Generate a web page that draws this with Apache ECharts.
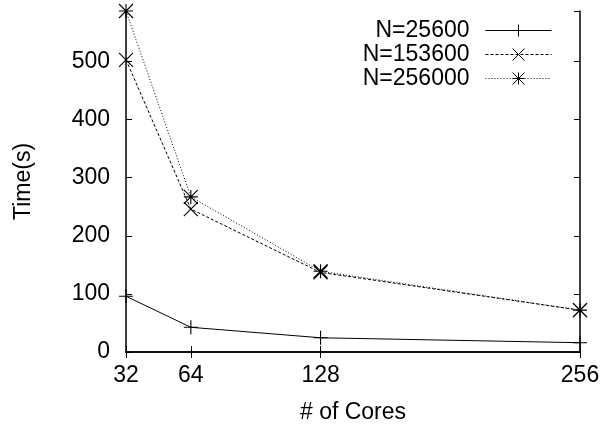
<!DOCTYPE html>
<html>
<head>
<meta charset="utf-8">
<script src="https://cdn.jsdelivr.net/npm/echarts@6/dist/echarts.min.js"></script>
<style>
html,body{margin:0;padding:0;background:#fff;}
#chart{width:604px;height:429px;}
</style>
</head>
<body>
<div id="chart"></div>
<script>
const cores = [32, 64, 128, 256];
const xTicks = [32, 64, 128, 256];
const seriesNames = ['N=25600', 'N=153600', 'N=256000'];
const n25600 = [96, 42.5, 24.5, 16];
const n153600 = [503, 246, 137, 72];
const n256000 = [587, 267, 139, 72];

const FONT = 'Liberation Sans';
const FS = 23;
const plusPath = 'path://M0,-1L0,1M-1,0L1,0';
const crossPath = 'path://M-1,-1L1,1M-1,1L1,-1';
const starPath = 'path://M0,-1L0,1M-1,0L1,0M-1,-1L1,1M-1,1L1,-1';

function pairs(vals) { return cores.map((c, i) => [c, vals[i]]); }

function mkSeries(name, vals, sym, dash) {
  return {
    name: name,
    type: 'line',
    data: pairs(vals),
    symbol: sym,
    symbolSize: 14,
    showAllSymbol: true,
    lineStyle: { color: '#000', width: 1, type: dash },
    itemStyle: { color: '#000', borderColor: '#000', borderWidth: 1.1 },
    emphasis: { disabled: true },
    z: 3
  };
}

const chart = echarts.init(document.getElementById('chart'), null, { renderer: 'canvas' });
const axisLineStyle = { show: true, lineStyle: { color: '#000', width: 1.5 } };
chart.setOption({
  animation: false,
  backgroundColor: '#fff',
  textStyle: { fontFamily: FONT },
  grid: { left: 126, right: 24, top: 11, bottom: 77, containLabel: false },
  legend: {
    orient: 'vertical',
    align: 'right',
    right: 47,
    top: 14,
    itemWidth: 66,
    itemHeight: 15,
    itemGap: 1,
    data: seriesNames,
    lineStyle: { width: 1 },
    itemStyle: { borderWidth: 1 },
    textStyle: { fontFamily: FONT, fontSize: FS, color: '#000', padding: [0, 11, 0, 0] }
  },
  xAxis: [
    {
      type: 'value', min: 32, max: 256, position: 'bottom',
      name: '# of Cores', nameLocation: 'middle', nameGap: 49,
      nameTextStyle: { fontFamily: FONT, fontSize: FS, color: '#000' },
      axisLine: axisLineStyle,
      axisTick: { show: true, inside: true, length: 6, customValues: xTicks, lineStyle: { color: '#000' } },
      axisLabel: { customValues: xTicks, fontFamily: FONT, fontSize: FS, color: '#000', margin: 12 },
      splitLine: { show: false }
    },
    {
      type: 'value', min: 32, max: 256, position: 'top',
      axisLine: axisLineStyle,
      axisTick: { show: true, inside: true, length: 6, customValues: xTicks, lineStyle: { color: '#000' } },
      axisLabel: { show: false },
      splitLine: { show: false }
    }
  ],
  yAxis: [
    {
      type: 'value', min: 0, max: 587, interval: 100, position: 'left',
      name: 'Time(s)', nameLocation: 'middle', nameGap: 91,
      nameTextStyle: { fontFamily: FONT, fontSize: FS, color: '#000' },
      axisLine: axisLineStyle,
      axisTick: { show: true, inside: true, length: 6, lineStyle: { color: '#000' } },
      axisLabel: { fontFamily: FONT, fontSize: FS, color: '#000', margin: 16, showMaxLabel: false },
      splitLine: { show: false }
    },
    {
      type: 'value', min: 0, max: 587, interval: 100, position: 'right',
      axisLine: axisLineStyle,
      axisTick: { show: true, inside: true, length: 6, lineStyle: { color: '#000' } },
      axisLabel: { show: false },
      splitLine: { show: false }
    }
  ],
  series: [
    mkSeries(seriesNames[0], n25600, plusPath, 'solid'),
    mkSeries(seriesNames[1], n153600, crossPath, [3, 2]),
    mkSeries(seriesNames[2], n256000, starPath, [1, 2])
  ]
});
</script>
</body>
</html>
